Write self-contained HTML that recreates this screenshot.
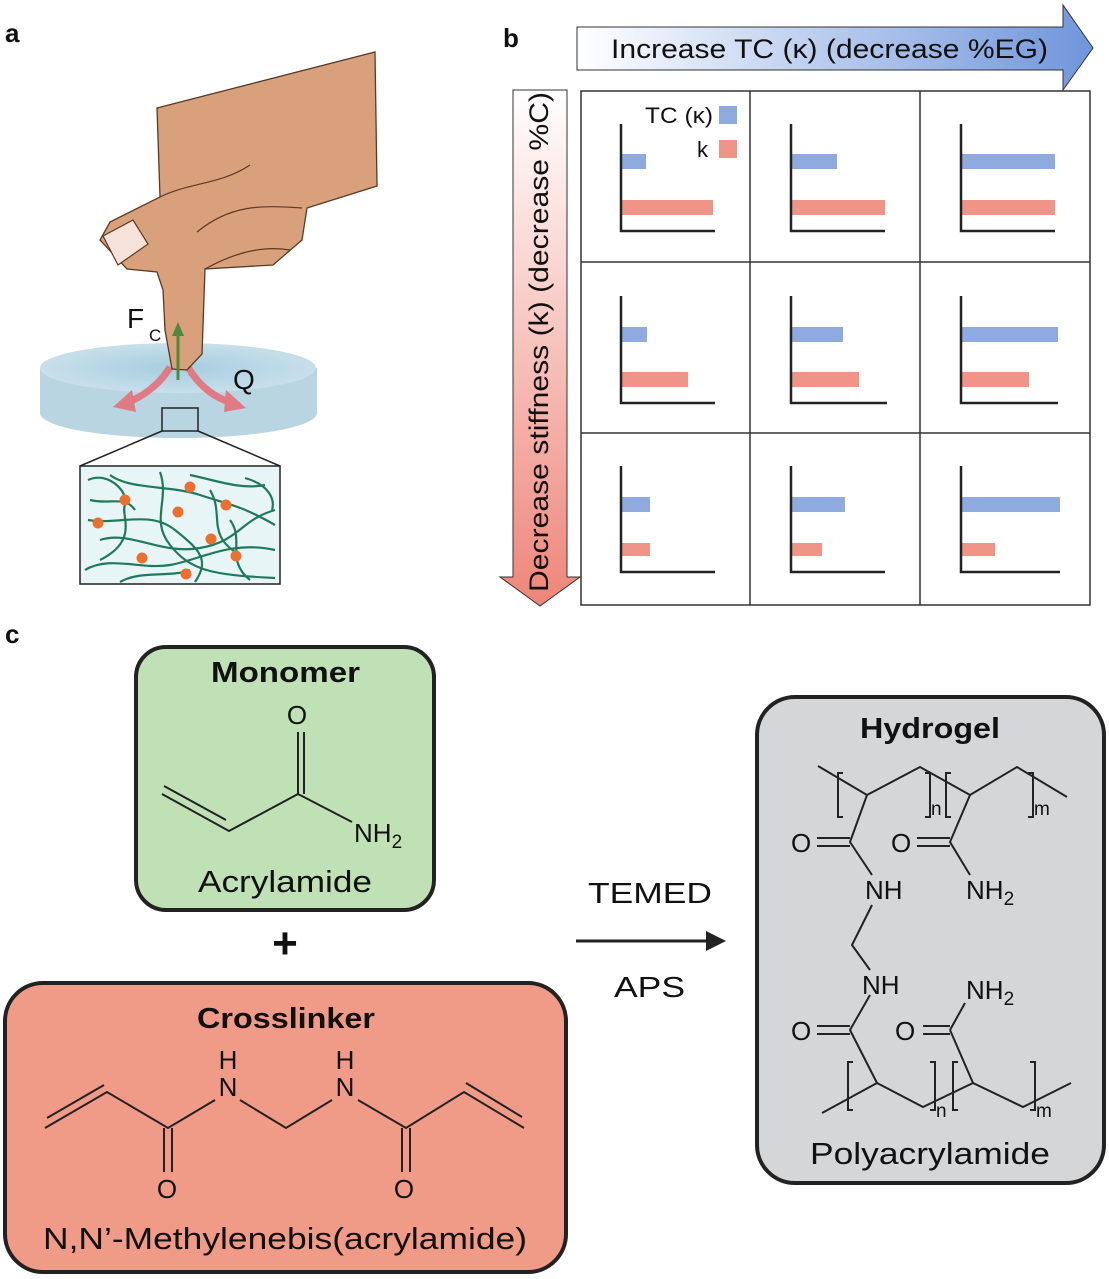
<!DOCTYPE html>
<html><head><meta charset="utf-8"><style>
html,body{margin:0;padding:0;background:#fff}
svg{display:block}
text{font-family:"Liberation Sans",Arial,sans-serif;fill:#111}
</style></head><body>
<svg width="1109" height="1279" viewBox="0 0 1109 1279" xmlns="http://www.w3.org/2000/svg">
<defs>
<linearGradient id="gb" x1="0" y1="0" x2="1" y2="0"><stop offset="0" stop-color="#ffffff"/><stop offset="1" stop-color="#6f95db"/></linearGradient>
<linearGradient id="gr" x1="0" y1="0" x2="0" y2="1"><stop offset="0" stop-color="#ffffff"/><stop offset="1" stop-color="#ee8579"/></linearGradient>
<radialGradient id="disc" cx="0.5" cy="0.5" r="0.5"><stop offset="0" stop-color="#a6cde0"/><stop offset="1" stop-color="#c7dfea"/></radialGradient>
</defs>

<!-- labels -->
<text x="5" y="42" font-size="26" font-weight="bold">a</text>
<text x="503" y="47" font-size="26" font-weight="bold">b</text>
<text x="5" y="643" font-size="26" font-weight="bold">c</text>

<!-- panel a: disc -->
<path d="M40,368 L40,413 A138,25 0 0 0 317,413 L317,368 Z" fill="#b9d5e2"/>
<ellipse cx="178" cy="368" rx="138" ry="25" fill="url(#disc)"/>
<rect x="162" y="408" width="36" height="23" fill="none" stroke="#222" stroke-width="1.5"/>
<line x1="162" y1="431" x2="80" y2="466" stroke="#222" stroke-width="1.5"/>
<line x1="198" y1="431" x2="280" y2="466" stroke="#222" stroke-width="1.5"/>
<rect x="80" y="466" width="200" height="118" fill="#e8f5f7" stroke="#222" stroke-width="1.5"/>
<g fill="none" stroke="#1f7a5a" stroke-width="2.2">
<path d="M88,480 C110,470 130,495 125,505 S140,540 100,560"/>
<path d="M88,520 C120,525 150,510 175,530 S210,560 195,582"/>
<path d="M110,475 C130,490 170,485 200,495 S240,505 275,525"/>
<path d="M160,472 C170,500 150,520 170,545 S210,575 275,578"/>
<path d="M190,475 C215,480 240,490 265,485"/>
<path d="M85,570 C110,555 140,570 170,565 S230,540 275,550"/>
<path d="M100,540 C130,530 160,555 200,548 S240,520 275,510"/>
<path d="M245,478 C270,485 275,500 272,510"/>
<path d="M210,490 C225,515 205,535 240,555"/>
<path d="M120,582 C140,570 170,578 190,570"/>
<path d="M230,520 C245,540 225,560 250,580"/>
<path d="M90,500 C110,505 125,495 135,510"/>
</g>
<g fill="#ea7030">
<circle cx="125" cy="500" r="5.5"/><circle cx="190" cy="487" r="5.5"/><circle cx="178" cy="512" r="5.5"/>
<circle cx="226" cy="505" r="5.5"/><circle cx="98" cy="523" r="5.5"/><circle cx="211" cy="539" r="5.5"/>
<circle cx="142" cy="558" r="5.5"/><circle cx="236" cy="556" r="5.5"/><circle cx="186" cy="574" r="5.5"/>
</g>
<!-- heat arrows -->
<path d="M170,367 C160,385 140,398 128,402" fill="none" stroke="#e07a84" stroke-width="7"/>
<polygon points="113,407 132,390 136,412" fill="#e07a84"/>
<path d="M188,367 C198,385 215,398 230,402" fill="none" stroke="#e07a84" stroke-width="7"/>
<polygon points="246,408 226,390 224,412" fill="#e07a84"/>
<!-- hand -->
<path d="M157,108 L375,52 L377,186 L307,208 L302,240 L273,265 L205,269 L202,354 L187,370 L172,369 L165,330 L163,290 L157,272 L127,269 L100,240 L110,222 L160,197 Z" fill="#d9a07c" stroke="#5a3a25" stroke-width="1.3"/>
<path d="M103,236 L133,220 L148,244 L118,265 Z" fill="#f6e2d8" stroke="#5a3a25" stroke-width="1.2"/>
<path d="M160,197 C190,182 220,185 250,165 M197,232 C230,205 260,205 302,208 M205,269 C230,255 260,245 290,250" fill="none" stroke="#5a3a25" stroke-width="1.2"/>
<line x1="178" y1="380" x2="178" y2="334" stroke="#4f8a3a" stroke-width="3"/>
<polygon points="172,336 178,322 184,336" fill="#4f8a3a"/>
<text x="127" y="328" font-size="28">F</text>
<text x="149" y="341" font-size="17">C</text>
<text x="233" y="389" font-size="28">Q</text>

<!-- panel b arrows -->
<polygon points="577,27 1063,27 1063,5 1093,48 1063,90 1063,70 577,70" fill="url(#gb)" stroke="#333" stroke-width="1"/>
<text x="611" y="58" font-size="27" textLength="437" lengthAdjust="spacingAndGlyphs">Increase TC (κ) (decrease %EG)</text>
<polygon points="513,90 567,90 567,577 580,577 540,606 500,577 513,577" fill="url(#gr)" stroke="#333" stroke-width="1"/>
<text transform="translate(548,592) rotate(-90)" font-size="27" textLength="500" lengthAdjust="spacingAndGlyphs">Decrease stiffness (k) (decrease %C)</text>

<!-- grid -->
<g fill="none" stroke="#333" stroke-width="1.5">
<rect x="581" y="91" width="509" height="514"/>
<line x1="750" y1="91" x2="750" y2="605"/><line x1="920" y1="91" x2="920" y2="605"/>
<line x1="581" y1="262" x2="1090" y2="262"/><line x1="581" y1="433" x2="1090" y2="433"/>
</g>
<text x="645" y="123" font-size="22" textLength="68" lengthAdjust="spacingAndGlyphs">TC (κ)</text>
<rect x="719" y="106" width="18" height="18" fill="#8eaade"/>
<text x="697" y="157" font-size="22">k</text>
<rect x="719" y="140" width="18" height="18" fill="#f09488"/>
<g fill="#8eaade">
<rect x="622" y="154" width="24" height="15"/><rect x="792" y="154" width="45" height="15"/><rect x="962" y="154" width="93" height="15"/>
<rect x="622" y="327" width="25" height="15"/><rect x="792" y="327" width="51" height="15"/><rect x="962" y="327" width="96" height="15"/>
<rect x="622" y="497" width="28" height="15"/><rect x="792" y="497" width="53" height="15"/><rect x="962" y="497" width="98" height="15"/>
</g>
<g fill="#f09488">
<rect x="622" y="200" width="91" height="15"/><rect x="792" y="200" width="93" height="15"/><rect x="962" y="200" width="93" height="15"/>
<rect x="622" y="372" width="66" height="15"/><rect x="792" y="372" width="67" height="15"/><rect x="962" y="372" width="67" height="15"/>
<rect x="622" y="543" width="28" height="13"/><rect x="792" y="543" width="30" height="13"/><rect x="962" y="543" width="33" height="13"/>
</g>
<g fill="none" stroke="#222" stroke-width="2.5">
<path d="M621,124 V231 H715"/><path d="M791,124 V231 H885"/><path d="M961,124 V231 H1055"/>
<path d="M621,296 V403 H715"/><path d="M791,296 V403 H887"/><path d="M961,296 V403 H1058"/>
<path d="M621,466 V572 H715"/><path d="M791,466 V572 H885"/><path d="M961,466 V572 H1060"/>
</g>

<!-- panel c boxes -->
<rect x="136" y="647" width="298" height="263" rx="30" fill="#c0e1b5" stroke="#222" stroke-width="4"/>
<rect x="5" y="983" width="561" height="289" rx="38" fill="#f09b88" stroke="#222" stroke-width="4"/>
<rect x="757" y="697" width="347" height="486" rx="38" fill="#d4d6d8" stroke="#222" stroke-width="4"/>

<text x="211" y="682" font-size="29" font-weight="bold" textLength="149" lengthAdjust="spacingAndGlyphs">Monomer</text>
<text x="198" y="892" font-size="31" textLength="174" lengthAdjust="spacingAndGlyphs">Acrylamide</text>
<text x="197" y="1028" font-size="29" font-weight="bold" textLength="178" lengthAdjust="spacingAndGlyphs">Crosslinker</text>
<text x="43" y="1249" font-size="31" textLength="484" lengthAdjust="spacingAndGlyphs">N,N’-Methylenebis(acrylamide)</text>
<text x="860" y="738" font-size="29" font-weight="bold" textLength="140" lengthAdjust="spacingAndGlyphs">Hydrogel</text>
<text x="810" y="1164" font-size="31" textLength="240" lengthAdjust="spacingAndGlyphs">Polyacrylamide</text>

<text x="285" y="958" font-size="44" font-weight="bold" text-anchor="middle">+</text>
<line x1="576" y1="941" x2="710" y2="941" stroke="#222" stroke-width="3"/>
<polygon points="706,931 726,941 706,951" fill="#222"/>
<text x="588" y="903" font-size="29" textLength="124" lengthAdjust="spacingAndGlyphs">TEMED</text>
<text x="614" y="997" font-size="29" textLength="71" lengthAdjust="spacingAndGlyphs">APS</text>

<!-- acrylamide -->
<g fill="none" stroke="#222" stroke-width="2">
<path d="M162,794 L229,831 L298,794 L298,732 M304,794 L304,732 M298,794 L352,822 M164,786 L226,820"/>
</g>
<text x="297" y="724" font-size="26" text-anchor="middle">O</text>
<text x="354" y="842" font-size="26">NH<tspan font-size="19" dy="6">2</tspan></text>

<!-- crosslinker -->
<g fill="none" stroke="#222" stroke-width="2">
<path d="M45,1128 L107,1092 L168,1128 L215,1100 M240,1100 L286,1128 L332,1100 M358,1100 L406,1128 L464,1092 L524,1128"/>
<path d="M47,1118 L104,1085 M466,1083 L522,1117"/>
<path d="M164,1128 V1172 M172,1128 V1172 M402,1128 V1172 M410,1128 V1172"/>
</g>
<g font-size="26" text-anchor="middle">
<text x="228" y="1069">H</text><text x="228" y="1096">N</text>
<text x="345" y="1069">H</text><text x="345" y="1096">N</text>
<text x="167" y="1198">O</text><text x="404" y="1198">O</text>
</g>

<!-- polyacrylamide -->
<g fill="none" stroke="#222" stroke-width="2">
<path d="M818,766 L867,795 L920,767 L970,795 L1017,767 L1067,797"/>
<path d="M867,795 L850,842 L872,875 M970,795 L950,842 L970,875"/>
<path d="M850,838 H817 M850,846 H817 M950,838 H917 M950,846 H917"/>
<path d="M872,905 L852,945 L870,970"/>
<path d="M870,995 L850,1030 L877,1083 M950,1030 L965,1003 M950,1030 L973,1083"/>
<path d="M850,1026 H817 M850,1034 H817 M950,1026 H923 M950,1034 H923"/>
<path d="M822,1113 L877,1083 L923,1107 L973,1083 L1023,1107 L1071,1083"/>
<path d="M843,773 h-5 v44 h5 M925,773 h5 v44 h-5 M951,773 h-5 v44 h5 M1028,773 h5 v44 h-5"/>
<path d="M853,1062 h-5 v48 h5 M930,1062 h5 v48 h-5 M958,1062 h-5 v48 h5 M1030,1062 h5 v48 h-5"/>
</g>
<g font-size="26">
<text x="791" y="852">O</text><text x="891" y="852">O</text>
<text x="865" y="899">NH</text><text x="966" y="899">NH<tspan font-size="19" dy="6">2</tspan></text>
<text x="862" y="994">NH</text><text x="966" y="999">NH<tspan font-size="19" dy="6">2</tspan></text>
<text x="791" y="1040">O</text><text x="895" y="1040">O</text>
</g>
<g font-size="19">
<text x="931" y="815">n</text><text x="1034" y="815">m</text>
<text x="936" y="1117">n</text><text x="1036" y="1117">m</text>
</g>
</svg>
</body></html>
